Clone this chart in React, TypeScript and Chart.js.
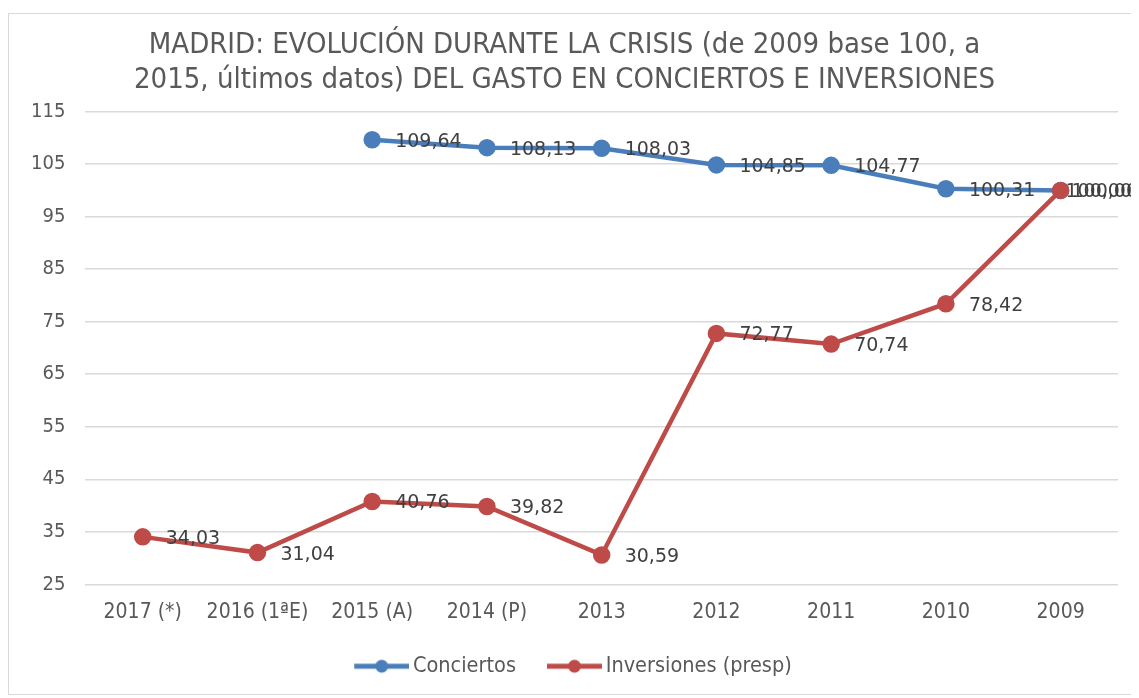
import React, { useEffect, useRef } from "react";
import { Chart, registerables } from "chart.js";

Chart.register(...registerables);

const categories = ["2017 (*)", "2016 (1ªE)", "2015 (A)", "2014 (P)", "2013", "2012", "2011", "2010", "2009"];
const conciertos = [null, null, 109.64, 108.13, 108.03, 104.85, 104.77, 100.31, 100.0];
const inversiones = [34.03, 31.04, 40.76, 39.82, 30.59, 72.77, 70.74, 78.42, 100.0];
const titleLines = [
  "MADRID: EVOLUCIÓN DURANTE LA CRISIS (de 2009 base 100, a",
  "2015, últimos datos) DEL GASTO EN CONCIERTOS E INVERSIONES",
];

const BLUE = "#4A7EBB";
const RED = "#BE4B48";
const TEXT = "#595959";
const FONT = "'Liberation Sans Narrow', 'DejaVu Sans Condensed', Arial, sans-serif";
const LEGEND_FONT = 21.5;
const ICON_BOX = 65;

function legendIcon(color: string): HTMLCanvasElement {
  const c = document.createElement("canvas");
  c.width = 79;
  c.height = 16;
  const ctx = c.getContext("2d")!;
  ctx.strokeStyle = color;
  ctx.lineWidth = 5;
  ctx.beginPath();
  ctx.moveTo(24, 8);
  ctx.lineTo(79, 8);
  ctx.stroke();
  ctx.fillStyle = color;
  ctx.beginPath();
  ctx.arc(51.5, 8, 6.5, 0, Math.PI * 2);
  ctx.fill();
  return c;
}

const labelPlugin = {
  id: "pointLabels",
  afterDatasetsDraw(chart: any) {
    const ctx = chart.ctx;
    ctx.save();
    ctx.font = "19px 'DejaVu Sans', sans-serif";
    ctx.fillStyle = "#404040";
    ctx.textAlign = "left";
    ctx.textBaseline = "middle";
    chart.data.datasets.forEach((ds: any, i: number) => {
      const meta = chart.getDatasetMeta(i);
      meta.data.forEach((pt: any, j: number) => {
        const v = ds.data[j];
        if (v === null || v === undefined) return;
        const txt = v.toFixed(2).replace(".", ",");
        const w = ctx.measureText(txt).width;
        const x = Math.min(pt.x + 23, chart.width - w - 1 - i * 6);
        ctx.fillText(txt, x, pt.y + 2);
      });
    });
    ctx.restore();
  },
};

export default function App() {
  const ref = useRef<HTMLCanvasElement>(null);
  useEffect(() => {
    if (!ref.current) return;
    const icons = [legendIcon(BLUE), legendIcon(RED)];
    const chart = new Chart(ref.current, {
      type: "line",
      data: {
        labels: categories,
        datasets: [
          {
            label: "Conciertos",
            data: conciertos,
            borderColor: BLUE,
            backgroundColor: BLUE,
            borderWidth: 4.5,
            pointRadius: 6.5,
            pointHoverRadius: 6.5,
            order: 1,
            spanGaps: false,
          },
          {
            label: "Inversiones (presp)",
            data: inversiones,
            borderColor: RED,
            backgroundColor: RED,
            borderWidth: 4.5,
            pointRadius: 6.5,
            pointHoverRadius: 6.5,
            order: 0,
          },
        ],
      },
      options: {
        animation: false,
        responsive: true,
        maintainAspectRatio: false,
        layout: { padding: { left: 2, right: 21, top: 14, bottom: 7 } },
        plugins: {
          title: {
            display: true,
            text: titleLines,
            color: TEXT,
            font: { family: FONT, size: 29, weight: "normal", lineHeight: 1.2 },
            padding: { top: 0, bottom: 14 },
          },
          legend: {
            position: "bottom",
            labels: {
              usePointStyle: true,
              pointStyleWidth: ICON_BOX,
              color: TEXT,
              font: { family: FONT, size: LEGEND_FONT },
              padding: 14,
              generateLabels: (chart: any) =>
                chart.data.datasets.map((ds: any, i: number) => ({
                  text: ds.label,
                  fillStyle: ds.borderColor,
                  strokeStyle: ds.borderColor,
                  pointStyle: icons[i],
                  datasetIndex: i,
                  hidden: false,
                  fontColor: TEXT,
                })),
            },
          },
          tooltip: { enabled: false },
        },
        scales: {
          x: {
            offset: true,
            grid: { display: false, drawTicks: false },
            border: { display: false },
            ticks: { color: TEXT, font: { family: FONT, size: 21 }, padding: 16, maxRotation: 0 },
          },
          y: {
            min: 25,
            max: 115,
            grid: { color: "#D9D9D9", lineWidth: 1.5, drawTicks: false },
            border: { display: false },
            ticks: { stepSize: 10, color: TEXT, font: { family: FONT, size: 20 }, padding: 20 },
          },
        },
      },
      plugins: [labelPlugin],
    });
    return () => chart.destroy();
  }, []);
  return (
    <div
      style={{
        marginTop: 5,
        width: 1131,
        height: 682,
        border: "1px solid #D9D9D9",
        borderRight: "none",
        boxSizing: "border-box",
        position: "relative",
        background: "#fff",
      }}
    >
      <canvas ref={ref} />
    </div>
  );
}
